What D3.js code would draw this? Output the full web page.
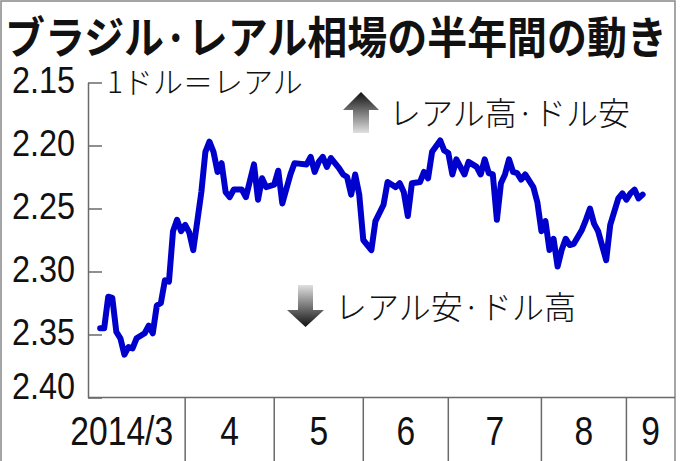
<!DOCTYPE html>
<html><head><meta charset="utf-8">
<script src="https://cdn.jsdelivr.net/npm/d3@7"></script>
<style>html,body{margin:0;padding:0;background:#fff;}svg{display:block;}</style>
</head><body>
<svg id="c" width="680" height="461"></svg>
<script>
const title = "ブラジル·レアル相場の半年間の動き";
const unitLabel = "1ドル＝レアル";
const upLabel = "レアル高·ドル安";
const downLabel = "レアル安·ドル高";
const yTicks = [2.15, 2.20, 2.25, 2.30, 2.35, 2.40];
const monthStarts = ["2014-04-01","2014-05-01","2014-06-02","2014-07-01","2014-08-01","2014-09-01"];
const monthLabels = ["2014/3","4","5","6","7","8","9"];
const dates = ["2014-03-03","2014-03-04","2014-03-05","2014-03-06","2014-03-07","2014-03-10","2014-03-11","2014-03-12","2014-03-13","2014-03-14","2014-03-18","2014-03-19","2014-03-20","2014-03-21","2014-03-24","2014-03-25","2014-03-26","2014-03-27","2014-03-28","2014-03-31",
"2014-04-01","2014-04-02","2014-04-03","2014-04-07","2014-04-08","2014-04-09","2014-04-10","2014-04-11","2014-04-14","2014-04-15","2014-04-16","2014-04-17","2014-04-21","2014-04-22","2014-04-24","2014-04-25","2014-04-28","2014-04-29",
"2014-05-01","2014-05-02","2014-05-05","2014-05-07","2014-05-08","2014-05-13","2014-05-14","2014-05-15","2014-05-16","2014-05-19","2014-05-20","2014-05-21","2014-05-23","2014-05-26","2014-05-27","2014-05-28","2014-05-29","2014-05-30",
"2014-06-02","2014-06-04","2014-06-05","2014-06-09","2014-06-10","2014-06-12","2014-06-13","2014-06-16","2014-06-17","2014-06-18","2014-06-20","2014-06-23","2014-06-24","2014-06-25","2014-06-27","2014-06-30",
"2014-07-01","2014-07-02","2014-07-03","2014-07-07","2014-07-08","2014-07-10","2014-07-11","2014-07-14","2014-07-15","2014-07-16","2014-07-17","2014-07-18","2014-07-21","2014-07-22","2014-07-23","2014-07-24","2014-07-25","2014-07-28","2014-07-30","2014-07-31",
"2014-08-01","2014-08-04","2014-08-05","2014-08-06","2014-08-07","2014-08-08","2014-08-11","2014-08-12","2014-08-13","2014-08-15","2014-08-18","2014-08-19","2014-08-20","2014-08-21","2014-08-25","2014-08-26","2014-08-28","2014-08-29",
"2014-09-01","2014-09-02","2014-09-03","2014-09-04","2014-09-05"];
const rates = [2.345,2.345,2.320,2.321,2.348,2.353,2.366,2.360,2.361,2.353,2.349,2.343,2.349,2.327,2.325,2.307,2.308,2.268,2.259,2.268,
2.263,2.269,2.283,2.237,2.205,2.197,2.205,2.221,2.214,2.237,2.241,2.235,2.235,2.241,2.215,2.243,2.226,2.233,
2.231,2.220,2.246,2.223,2.214,2.215,2.209,2.221,2.213,2.209,2.217,2.210,2.218,2.223,2.225,2.239,2.223,2.239,
2.275,2.283,2.260,2.247,2.229,2.233,2.230,2.237,2.256,2.230,2.229,2.221,2.226,2.205,2.196,2.204,
2.206,2.223,2.211,2.223,2.213,2.217,2.223,2.211,2.222,2.223,2.259,2.230,2.223,2.211,2.221,2.222,2.227,2.223,2.233,2.245,
2.268,2.260,2.283,2.274,2.296,2.283,2.274,2.279,2.278,2.267,2.259,2.250,2.262,2.268,2.291,2.263,2.242,2.238,
2.243,2.238,2.235,2.242,2.239];

const origin = new Date("2014-02-26T00:00:00Z");
function tradingIndex(s){
  const d = new Date(s + "T00:00:00Z");
  return d3.utcDay.range(origin, d).filter(t => t.getUTCDay() % 6 !== 0).length;
}
// condense a Latin label horizontally (narrow face substitute)
function narrow(sel, k){
  sel.each(function(){
    const w = this.getComputedTextLength();
    d3.select(this).attr("textLength", w * k).attr("lengthAdjust","spacingAndGlyphs");
  });
}

const svg = d3.select("#c");
const L = 88, R = 675, T = 82.5, B = 397.5;
const x = d3.scaleLinear().domain([0, 145]).range([L, R]);
const y = d3.scaleLinear().domain([2.15, 2.40]).range([T, B]);
const gray = "#6a6a6a";
const latin = "'Liberation Sans', Arial, sans-serif";
const jp = "'Noto Sans CJK JP', sans-serif";

// outer frame
svg.append("rect").attr("x",1).attr("y",1).attr("width",674).attr("height",470)
  .attr("fill","none").attr("stroke","#888").attr("stroke-width",1.5);

// title
svg.append("text").attr("x",5).attr("y",54).text(title)
  .attr("font-family",jp).attr("font-weight",700).attr("font-size",44)
  .attr("textLength",662).attr("lengthAdjust","spacingAndGlyphs").attr("fill","#111");

// y axis
const yAxis = d3.axisLeft(y).tickValues(yTicks).tickFormat(d3.format(".2f"))
  .tickSizeInner(-14).tickSizeOuter(0).tickPadding(13);
const ga = svg.append("g").attr("transform",`translate(${L},0)`).call(yAxis);
ga.select(".domain").attr("stroke",gray).attr("stroke-width",1.5);
ga.selectAll(".tick line").attr("stroke",gray).attr("stroke-width",1.5);
ga.selectAll(".tick text").attr("font-family",latin).attr("font-size",36)
  .attr("fill","#111").attr("dy", d => d === 2.40 ? "0.04em" : "0.28em");
narrow(ga.selectAll(".tick text"), 0.9);

// bottom axis line
svg.append("line").attr("x1",L).attr("x2",R).attr("y1",B).attr("y2",B)
  .attr("stroke",gray).attr("stroke-width",1.5);

// month separators & labels
const sepX = monthStarts.map(s => x(tradingIndex(s)));
svg.selectAll(".sep").data(sepX).enter().append("line")
  .attr("x1",d=>d).attr("x2",d=>d).attr("y1",B).attr("y2",461)
  .attr("stroke",gray).attr("stroke-width",1.5);
const bounds = [L].concat(sepX, [R]);
const ml = svg.selectAll(".ml").data(monthLabels).enter().append("text")
  .attr("x",(d,i)=> i===0 ? sepX[0]-12 : (bounds[i]+bounds[i+1])/2)
  .attr("text-anchor",(d,i)=> i===0 ? "end" : "middle")
  .attr("y",445).text(d=>d)
  .attr("font-family",latin).attr("font-size",41).attr("fill","#111");
narrow(ml, 0.82);

// unit label
svg.append("text").attr("x",107).attr("y",93).text(unitLabel)
  .attr("font-family",jp).attr("font-weight",300).attr("font-size",30).attr("fill","#111");

// arrows
const defs = svg.append("defs");
const gUp = defs.append("linearGradient").attr("id","gup").attr("x1",0).attr("x2",0).attr("y1",0).attr("y2",1);
gUp.append("stop").attr("offset","0%").attr("stop-color","#111");
gUp.append("stop").attr("offset","100%").attr("stop-color","#e0e0e0");
const gDn = defs.append("linearGradient").attr("id","gdn").attr("x1",0).attr("x2",0).attr("y1",0).attr("y2",1);
gDn.append("stop").attr("offset","0%").attr("stop-color","#e0e0e0");
gDn.append("stop").attr("offset","100%").attr("stop-color","#111");
svg.append("path").attr("d","M361,92 L379,110 L369,110 L369,133 L353,133 L353,110 L343,110 Z").attr("fill","url(#gup)");
svg.append("path").attr("d","M298,285 L313,285 L313,310 L324,310 L305.5,327 L287,310 L298,310 Z").attr("fill","url(#gdn)");
svg.append("text").attr("x",389).attr("y",125).text(upLabel)
  .attr("font-family",jp).attr("font-weight",300).attr("font-size",32).attr("fill","#111");
svg.append("text").attr("x",335).attr("y",319).text(downLabel)
  .attr("font-family",jp).attr("font-weight",300).attr("font-size",32).attr("fill","#111");

// line
const data = dates.map((d,i)=>({i: tradingIndex(d), v: rates[i]}));
svg.append("path").datum(data)
  .attr("d", d3.line().x(d=>x(d.i)).y(d=>y(d.v)))
  .attr("fill","none").attr("stroke","#0000cc").attr("stroke-width",6)
  .attr("stroke-linejoin","round").attr("stroke-linecap","round");
</script>
</body></html>
